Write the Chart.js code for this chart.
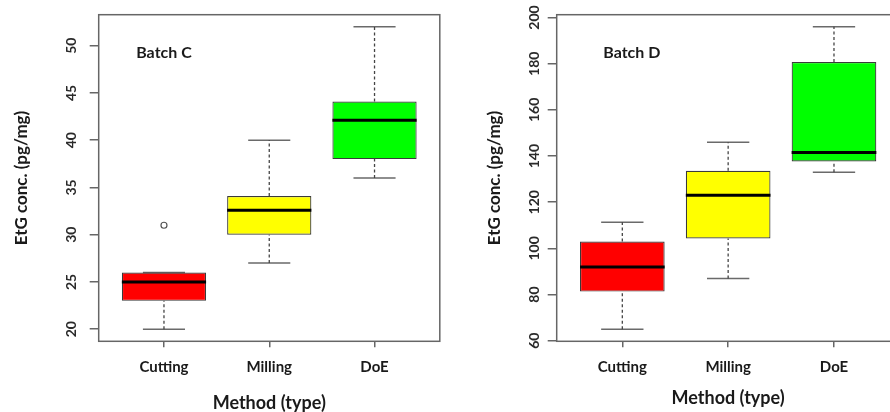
<!DOCTYPE html>
<html><head><meta charset="utf-8">
<script src="https://cdn.jsdelivr.net/npm/chart.js@4/dist/chart.umd.min.js"></script>
<style>
html,body{margin:0;padding:0;background:#fff;overflow:hidden;width:890px;height:412px;position:relative;}
#w1{position:absolute;left:0;top:0;width:445px;height:430px;}
#w2{position:absolute;left:445px;top:0;width:460px;height:430px;}
</style></head><body>
<div id="w1"><canvas id="c1" width="445" height="430"></canvas></div>
<div id="w2"><canvas id="c2" width="460" height="430"></canvas></div>
<script>
// ---- data ----
const categories = ['Cutting', 'Milling', 'DoE'];
const boxColors = ['#ff0000', '#ffff00', '#00ff00'];

const batchC_whiskerLow  = [20, 27, 36];
const batchC_q1          = [23, 30, 38];
const batchC_median      = [25, 32.6, 42.1];
const batchC_q3          = [26, 34.1, 44.1];
const batchC_whiskerHigh = [26, 40, 52];
const batchC_outliers    = [[31], [], []];
const batchC_yTicks      = [20, 25, 30, 35, 40, 45, 50];

const batchD_whiskerLow  = [65, 87, 133];
const batchD_q1          = [81.3, 104.3, 137.7];
const batchD_median      = [92, 123, 141.6];
const batchD_q3          = [103, 133.6, 180.7];
const batchD_whiskerHigh = [111.3, 146, 196];
const batchD_outliers    = [[], [], []];
const batchD_yTicks      = [60, 80, 100, 120, 140, 160, 180, 200];

const FONT = 'Lato, "Open Sans", sans-serif';

function range4(lo, hi){ const d = (hi - lo) * 0.04; return [lo - d, hi + d]; }

const framePlugin = {
  id: 'frame',
  afterDatasetsDraw(chart) {
    const a = chart.chartArea, ctx = chart.ctx;
    const o = chart.options.plugins.frame;
    ctx.save();
    ctx.strokeStyle = '#666';
    ctx.lineWidth = 1.5;
    ctx.strokeRect(a.left, a.top, a.right - a.left, a.bottom - a.top);
    // rotated y tick labels, placed through the y scale
    const ys = chart.scales.y;
    ctx.fillStyle = '#2a2a2a';
    ctx.font = 'bold 14px ' + FONT;
    ctx.textAlign = 'center';
    ctx.textBaseline = 'middle';
    ys.ticks.forEach(t => {
      ctx.save();
      ctx.translate(o.yLabelX, ys.getPixelForValue(t.value));
      ctx.rotate(-Math.PI / 2);
      ctx.fillText(String(t.value), 0, 0);
      ctx.restore();
    });
    const lab = o.label;
    if (lab) {
      ctx.fillStyle = '#1a1a1a';
      ctx.font = 'bold 16px ' + FONT;
      ctx.fillText(lab.text, chart.scales.x.getPixelForValue(lab.x), ys.getPixelForValue(lab.y));
    }
    ctx.restore();
  }
};

function makeChart(id, cfg) {
  const n = categories.length;
  const boxes = categories.map((c, i) => ({x: i + 1, y: [cfg.q1[i], cfg.q3[i]]}));
  const whiskers = [], caps = [], medians = [], outl = [];
  categories.forEach((c, i) => {
    const x = i + 1;
    whiskers.push({x, y: cfg.wl[i]}, {x, y: cfg.q1[i]}, {x, y: null});
    whiskers.push({x, y: cfg.q3[i]}, {x, y: cfg.wh[i]}, {x, y: null});
    caps.push({x: x - 0.2, y: cfg.wl[i]}, {x: x + 0.2, y: cfg.wl[i]}, {x, y: null});
    caps.push({x: x - 0.2, y: cfg.wh[i]}, {x: x + 0.2, y: cfg.wh[i]}, {x, y: null});
    medians.push({x: x - 0.4, y: cfg.med[i]}, {x: x + 0.4, y: cfg.med[i]}, {x, y: null});
    cfg.out[i].forEach(v => outl.push({x, y: v}));
  });
  const allVals = [].concat(cfg.wl, cfg.wh, ...cfg.out);
  const [ymin, ymax] = range4(Math.min(...allVals), Math.max(...allVals));
  const lineBase = {type: 'line', pointRadius: 0, fill: false, tension: 0, spanGaps: false};
  return new Chart(document.getElementById(id), {
    type: 'bar',
    data: {
      datasets: [
        {type: 'bar', data: boxes, backgroundColor: boxColors, borderColor: '#3a3a3a', borderWidth: 1.2,
         borderSkipped: false, barPercentage: 0.8, categoryPercentage: 1, grouped: false, order: 2},
        Object.assign({}, lineBase, {data: whiskers, borderColor: '#444', borderWidth: 1.3, borderDash: [3, 2.5], order: 3}),
        Object.assign({}, lineBase, {data: caps, borderColor: '#6a6a6a', borderWidth: 1.5, order: 4}),
        Object.assign({}, lineBase, {data: medians, borderColor: '#000', borderWidth: 3, order: 1}),
        {type: 'scatter', data: outl, pointRadius: 3, pointBackgroundColor: '#fff', pointBorderColor: '#555', pointBorderWidth: 1.2, order: 0}
      ]
    },
    options: {
      responsive: false,
      animation: false,
      events: [],
      layout: {padding: {left: 0, top: 14.7, right: cfg.padRight, bottom: 0}},
      plugins: {legend: {display: false}, tooltip: {enabled: false},
                frame: {label: cfg.label, yLabelX: cfg.yLabelX}},
      scales: {
        x: {
          type: 'linear', min: 0.38, max: n + 0.62, offset: false,
          afterBuildTicks: s => { s.ticks = categories.map((c, i) => ({value: i + 1})); },
          afterFit: s => { s.height = 430 - 341.3; },
          ticks: {callback: v => categories[Math.round(v) - 1], autoSkip: false, maxRotation: 0, minRotation: 0,
                  padding: 11, color: '#1a1a1a', font: {family: FONT, weight: 'bold', size: 15}},
          grid: {display: true, offset: false, drawOnChartArea: false, drawTicks: true, tickLength: 6, color: '#666', lineWidth: 1.5},
          border: {display: false},
          title: {display: true, text: 'Method (type)', color: '#1a1a1a',
                  font: {family: FONT, weight: 'bold', size: 18}, padding: {top: 0, bottom: cfg.xTitlePad}}
        },
        y: {
          type: 'linear', min: ymin, max: ymax, beginAtZero: false,
          afterBuildTicks: s => { s.ticks = cfg.yTicks.map(v => ({value: v})); },
          afterFit: s => { s.width = cfg.left; },
          ticks: {display: false},
          grid: {display: true, drawOnChartArea: false, drawTicks: true, tickLength: 9, color: '#666', lineWidth: 1.5},
          border: {display: false},
          title: {display: true, text: 'EtG conc. (pg/mg)', color: '#1a1a1a',
                  font: {family: FONT, weight: 'bold', size: 17}, padding: {top: cfg.yTitlePad, bottom: 0}}
        }
      }
    },
    plugins: [framePlugin]
  });
}

makeChart('c1', {
  q1: batchC_q1, med: batchC_median, q3: batchC_q3, wl: batchC_whiskerLow, wh: batchC_whiskerHigh,
  out: batchC_outliers, yTicks: batchC_yTicks,
  left: 98.7, padRight: 3.5, yLabelX: 71, yTitlePad: 11.5, xTitlePad: 16,
  label: {text: 'Batch C', x: 1.0, y: 49.2}
});
makeChart('c2', {
  q1: batchD_q1, med: batchD_median, q3: batchD_q3, wl: batchD_whiskerLow, wh: batchD_whiskerHigh,
  out: batchD_outliers, yTicks: batchD_yTicks,
  left: 111.7, padRight: 5.4, yLabelX: 89, yTitlePad: 39.1, xTitlePad: 21,
  label: {text: 'Batch D', x: 1.09, y: 184.5}
});
</script>
</body></html>
